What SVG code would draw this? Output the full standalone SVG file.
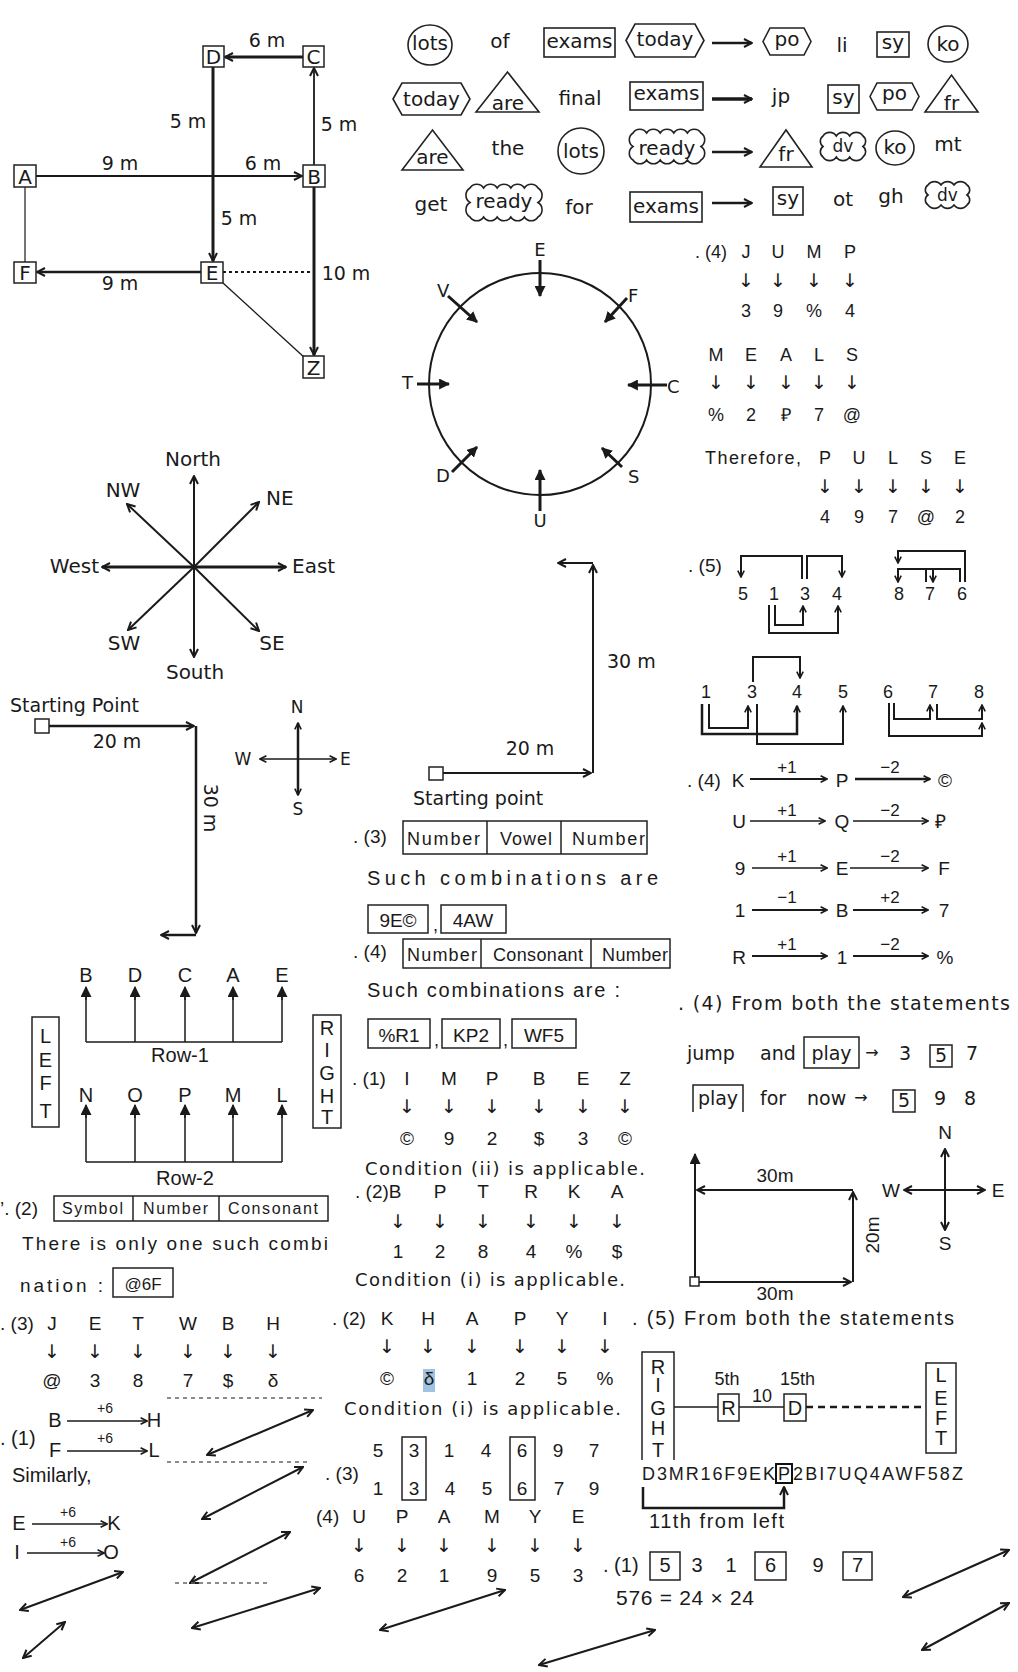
<svg xmlns="http://www.w3.org/2000/svg" width="1018" height="1672" viewBox="0 0 1018 1672">
<defs>
<style>
text{fill:#1a1a1a}
.s{font-family:"Liberation Sans",Arial,sans-serif}
.v{font-family:"DejaVu Sans",Verdana,sans-serif}
.n{font-family:"Liberation Sans Narrow","Liberation Sans",Arial,sans-serif}
.m{text-anchor:middle}
.e{text-anchor:end}
.bx{fill:#fff;stroke:#222;stroke-width:1.5}
.sh{fill:none;stroke:#222;stroke-width:1.6}
.cl{fill:none;stroke:#1a1a1a}
.dbl{fill:none;stroke:#1a1a1a;stroke-width:2;marker-start:url(#oa);marker-end:url(#oa)}
.frag{stroke:#666;stroke-width:1.5;stroke-dasharray:4,4}
</style>
<marker id="oa" viewBox="0 0 10 10" refX="9" refY="5" markerWidth="10" markerHeight="10" markerUnits="userSpaceOnUse" orient="auto-start-reverse"><path d="M1,1 L9,5 L1,9" fill="none" stroke="#1a1a1a" stroke-width="2"/></marker>
<marker id="os" viewBox="0 0 10 10" refX="9" refY="5" markerWidth="8" markerHeight="8" markerUnits="userSpaceOnUse" orient="auto-start-reverse"><path d="M1,1 L9,5 L1,9" fill="none" stroke="#1a1a1a" stroke-width="2"/></marker>
<marker id="fa" viewBox="0 0 10 10" refX="9" refY="5" markerWidth="11" markerHeight="11" markerUnits="userSpaceOnUse" orient="auto"><path d="M0,0 L10,5 L0,10 Z" fill="#1a1a1a"/></marker>
</defs>
<rect x="0" y="0" width="1018" height="1672" fill="#fff"/>

<g id="connectors">
  <!-- route diagram -->
  <line class="cl" x1="303" y1="57" x2="225" y2="57" stroke-width="3" marker-end="url(#oa)"/>
  <line class="cl" x1="213" y1="67" x2="213" y2="261" stroke-width="3" marker-end="url(#oa)"/>
  <line class="cl" x1="36" y1="176" x2="302" y2="176" stroke-width="1.8" marker-end="url(#oa)"/>
  <line class="cl" x1="314" y1="165" x2="314" y2="68" stroke-width="1.8" marker-end="url(#oa)"/>
  <line class="cl" x1="314" y1="187" x2="314" y2="355" stroke-width="3" marker-end="url(#oa)"/>
  <line class="cl" x1="201" y1="272" x2="37" y2="272" stroke-width="2.5" marker-end="url(#oa)"/>
  <line class="cl" x1="25" y1="187" x2="25" y2="262" stroke-width="1.2"/>
  <line class="cl" x1="223" y1="272" x2="312" y2="272" stroke-width="2" stroke-dasharray="3,3"/>
  <line class="cl" x1="223" y1="283" x2="305" y2="358" stroke-width="1.3"/>
  <!-- word puzzle arrows -->
  <line class="cl" x1="712" y1="43" x2="752" y2="43" stroke-width="2.5" marker-end="url(#oa)"/>
  <line class="cl" x1="712" y1="99" x2="752" y2="99" stroke-width="3.5" marker-end="url(#oa)"/>
  <line class="cl" x1="712" y1="152" x2="752" y2="152" stroke-width="2.5" marker-end="url(#oa)"/>
  <line class="cl" x1="712" y1="203" x2="752" y2="203" stroke-width="2.5" marker-end="url(#oa)"/>
  <!-- circle arrows -->
  <line class="cl" x1="540" y1="260" x2="540" y2="296" stroke-width="3" marker-end="url(#fa)"/>
  <line class="cl" x1="627" y1="298" x2="605" y2="322" stroke-width="3" marker-end="url(#fa)"/>
  <line class="cl" x1="667" y1="385" x2="628" y2="385" stroke-width="3" marker-end="url(#fa)"/>
  <line class="cl" x1="622" y1="467" x2="602" y2="448" stroke-width="3" marker-end="url(#fa)"/>
  <line class="cl" x1="540" y1="511" x2="540" y2="470" stroke-width="3" marker-end="url(#fa)"/>
  <line class="cl" x1="452" y1="472" x2="477" y2="447" stroke-width="3" marker-end="url(#fa)"/>
  <line class="cl" x1="417" y1="384" x2="449" y2="384" stroke-width="3" marker-end="url(#fa)"/>
  <line class="cl" x1="448" y1="296" x2="477" y2="322" stroke-width="3" marker-end="url(#fa)"/>
  <!-- compass rose -->
  <line class="cl" x1="194" y1="567" x2="194" y2="476" stroke-width="2" marker-end="url(#oa)"/>
  <line class="cl" x1="194" y1="567" x2="194" y2="657" stroke-width="2" marker-end="url(#oa)"/>
  <line class="cl" x1="194" y1="567" x2="102" y2="567" stroke-width="3" marker-end="url(#oa)"/>
  <line class="cl" x1="194" y1="567" x2="286" y2="567" stroke-width="3" marker-end="url(#oa)"/>
  <line class="cl" x1="194" y1="567" x2="127" y2="504" stroke-width="2" marker-end="url(#oa)"/>
  <line class="cl" x1="194" y1="567" x2="259" y2="502" stroke-width="2" marker-end="url(#oa)"/>
  <line class="cl" x1="194" y1="567" x2="128" y2="630" stroke-width="2" marker-end="url(#oa)"/>
  <line class="cl" x1="194" y1="567" x2="259" y2="631" stroke-width="2" marker-end="url(#oa)"/>
  <!-- starting point left -->
  <line class="cl" x1="49" y1="726" x2="194" y2="726" stroke-width="2.5" marker-end="url(#oa)"/>
  <line class="cl" x1="196" y1="726" x2="196" y2="933" stroke-width="2.5" marker-end="url(#oa)"/>
  <line class="cl" x1="196" y1="935" x2="161" y2="935" stroke-width="2.5" marker-end="url(#oa)"/>
  <line class="cl" x1="298" y1="759" x2="298" y2="723" stroke-width="2.5" marker-end="url(#os)"/>
  <line class="cl" x1="298" y1="759" x2="298" y2="795" stroke-width="2.5" marker-end="url(#os)"/>
  <line class="cl" x1="298" y1="759" x2="260" y2="759" stroke-width="1.5" marker-end="url(#os)"/>
  <line class="cl" x1="298" y1="759" x2="336" y2="759" stroke-width="1.5" marker-end="url(#os)"/>
  <!-- starting point middle -->
  <line class="cl" x1="443" y1="773" x2="591" y2="773" stroke-width="2" marker-end="url(#oa)"/>
  <line class="cl" x1="593" y1="773" x2="593" y2="565" stroke-width="2" marker-end="url(#oa)"/>
  <line class="cl" x1="593" y1="563" x2="558" y2="563" stroke-width="2" marker-end="url(#oa)"/>
  <!-- (5) brackets -->
  <path class="cl" d="M802,579 V556 H741 V577" stroke-width="2" marker-end="url(#os)"/>
  <path class="cl" d="M807,579 V556 H842 V577" stroke-width="2" marker-end="url(#os)"/>
  <path class="cl" d="M775,605 V625 H803 V606" stroke-width="2" marker-end="url(#os)"/>
  <path class="cl" d="M769,605 V633 H838 V606" stroke-width="2" marker-end="url(#os)"/>
  <path class="cl" d="M965,582 V551 H898 V563" stroke-width="2" marker-end="url(#os)"/>
  <path class="cl" d="M960,582 V569 H898 V582" stroke-width="2" marker-end="url(#os)"/>
  <path class="cl" d="M926,582 V569" stroke-width="2"/>
  <path class="cl" d="M933,569 V582" stroke-width="2" marker-end="url(#os)"/>
  <path class="cl" d="M753,682 V657 H800 V678" stroke-width="2" marker-end="url(#os)"/>
  <path class="cl" d="M709,704 V728 H748 V706" stroke-width="2" marker-end="url(#os)"/>
  <path class="cl" d="M702,704 V734 H797 V706" stroke-width="2.5" marker-end="url(#os)"/>
  <path class="cl" d="M757,704 V744 H843 V706" stroke-width="2" marker-end="url(#os)"/>
  <path class="cl" d="M894,703 V719 H930 V705" stroke-width="2" marker-end="url(#os)"/>
  <path class="cl" d="M937,704 V719 H982 V705" stroke-width="2" marker-end="url(#os)"/>
  <path class="cl" d="M889,703 V736 H982 V723" stroke-width="2" marker-end="url(#os)"/>
  <!-- Q4 coding arrows -->
  <line class="cl" x1="750" y1="779" x2="827" y2="779" stroke-width="2" marker-end="url(#os)"/>
  <line class="cl" x1="855" y1="779" x2="930" y2="779" stroke-width="2.5" marker-end="url(#os)"/>
  <line class="cl" x1="750" y1="821" x2="825" y2="821" stroke-width="1.5" marker-end="url(#os)"/>
  <line class="cl" x1="853" y1="821" x2="928" y2="821" stroke-width="1.5" marker-end="url(#os)"/>
  <line class="cl" x1="752" y1="868" x2="827" y2="868" stroke-width="1.5" marker-end="url(#os)"/>
  <line class="cl" x1="850" y1="868" x2="928" y2="868" stroke-width="1.5" marker-end="url(#os)"/>
  <line class="cl" x1="752" y1="910" x2="827" y2="910" stroke-width="2" marker-end="url(#os)"/>
  <line class="cl" x1="853" y1="910" x2="928" y2="910" stroke-width="2" marker-end="url(#os)"/>
  <line class="cl" x1="752" y1="956" x2="827" y2="956" stroke-width="2" marker-end="url(#os)"/>
  <line class="cl" x1="853" y1="956" x2="928" y2="956" stroke-width="2" marker-end="url(#os)"/>
  <!-- row diagram -->
  <path class="cl" d="M86,1042 H282 M86,1042 V988 M135,1042 V988 M185,1042 V988 M233,1042 V988 M282,1042 V988" stroke-width="1.5"/>
  <line class="cl" x1="86" y1="1000" x2="86" y2="987" stroke-width="1.5" marker-end="url(#fa)"/>
  <line class="cl" x1="135" y1="1000" x2="135" y2="987" stroke-width="1.5" marker-end="url(#fa)"/>
  <line class="cl" x1="185" y1="1000" x2="185" y2="987" stroke-width="1.5" marker-end="url(#fa)"/>
  <line class="cl" x1="233" y1="1000" x2="233" y2="987" stroke-width="1.5" marker-end="url(#fa)"/>
  <line class="cl" x1="282" y1="1000" x2="282" y2="987" stroke-width="1.5" marker-end="url(#fa)"/>
  <path class="cl" d="M86,1162 H282 M86,1162 V1106 M135,1162 V1106 M185,1162 V1106 M233,1162 V1106 M282,1162 V1106" stroke-width="1.5"/>
  <line class="cl" x1="86" y1="1118" x2="86" y2="1105" stroke-width="1.5" marker-end="url(#fa)"/>
  <line class="cl" x1="135" y1="1118" x2="135" y2="1105" stroke-width="1.5" marker-end="url(#fa)"/>
  <line class="cl" x1="185" y1="1118" x2="185" y2="1105" stroke-width="1.5" marker-end="url(#fa)"/>
  <line class="cl" x1="233" y1="1118" x2="233" y2="1105" stroke-width="1.5" marker-end="url(#fa)"/>
  <line class="cl" x1="282" y1="1118" x2="282" y2="1105" stroke-width="1.5" marker-end="url(#fa)"/>
  <!-- direction rectangle -->
  <line class="cl" x1="695" y1="1282" x2="695" y2="1154" stroke-width="2" marker-end="url(#fa)"/>
  <line class="cl" x1="853" y1="1190" x2="697" y2="1190" stroke-width="2" marker-end="url(#oa)"/>
  <line class="cl" x1="853" y1="1282" x2="853" y2="1192" stroke-width="2" marker-end="url(#oa)"/>
  <line class="cl" x1="699" y1="1282" x2="851" y2="1282" stroke-width="2" marker-end="url(#oa)"/>
  <line class="cl" x1="945" y1="1190" x2="945" y2="1149" stroke-width="2" marker-end="url(#oa)"/>
  <line class="cl" x1="945" y1="1190" x2="945" y2="1230" stroke-width="2" marker-end="url(#oa)"/>
  <line class="cl" x1="945" y1="1190" x2="904" y2="1190" stroke-width="2" marker-end="url(#oa)"/>
  <line class="cl" x1="945" y1="1190" x2="985" y2="1190" stroke-width="2" marker-end="url(#oa)"/>
  <!-- +6 arrows -->
  <line class="cl" x1="67" y1="1421" x2="147" y2="1421" stroke-width="1.5" marker-end="url(#os)"/>
  <line class="cl" x1="67" y1="1451" x2="147" y2="1451" stroke-width="1.5" marker-end="url(#os)"/>
  <line class="cl" x1="32" y1="1524" x2="107" y2="1524" stroke-width="1.5" marker-end="url(#os)"/>
  <line class="cl" x1="27" y1="1553" x2="104" y2="1553" stroke-width="1.5" marker-end="url(#os)"/>
  <!-- (5) seating line -->
  <line class="cl" x1="674" y1="1407" x2="718" y2="1407" stroke="#666" stroke-width="1.5"/>
  <line class="cl" x1="739" y1="1407" x2="784" y2="1407" stroke="#666" stroke-width="1.5"/>
  <line class="cl" x1="806" y1="1407" x2="926" y2="1407" stroke-width="2.5" stroke-dasharray="7,5"/>
  <path class="cl" d="M643,1487 V1508 H784 V1487" stroke-width="2.5" marker-end="url(#oa)"/>
  <!-- double-headed arrows -->
  <line class="dbl" x1="207" y1="1455" x2="313" y2="1410"/>
  <line class="dbl" x1="202" y1="1519" x2="303" y2="1467"/>
  <line class="dbl" x1="190" y1="1583" x2="290" y2="1532"/>
  <line class="dbl" x1="20" y1="1610" x2="123" y2="1572"/>
  <line class="dbl" x1="192" y1="1628" x2="320" y2="1588"/>
  <line class="dbl" x1="23" y1="1658" x2="65" y2="1622"/>
  <line class="dbl" x1="380" y1="1630" x2="505" y2="1590"/>
  <line class="dbl" x1="539" y1="1665" x2="655" y2="1630"/>
  <line class="dbl" x1="903" y1="1597" x2="1009" y2="1550"/>
  <line class="dbl" x1="922" y1="1650" x2="1009" y2="1603"/>
  <line class="frag" x1="167" y1="1398" x2="322" y2="1398"/>
  <line class="frag" x1="167" y1="1462" x2="307" y2="1462"/>
  <line class="frag" x1="175" y1="1583" x2="267" y2="1583"/>
</g>

<!-- route diagram nodes -->
<g id="node-D"><rect class="bx" x="203" y="46" width="21" height="21"/><text class="v m" x="213.5" y="64" font-size="20">D</text></g>
<g id="node-C"><rect class="bx" x="303" y="46" width="21" height="21"/><text class="v m" x="313.5" y="64" font-size="20">C</text></g>
<g id="node-A"><rect class="bx" x="14" y="165" width="22" height="22"/><text class="v m" x="25" y="183.5" font-size="20">A</text></g>
<g id="node-B"><rect class="bx" x="303" y="165" width="22" height="22"/><text class="v m" x="314" y="183.5" font-size="20">B</text></g>
<g id="node-F"><rect class="bx" x="14" y="262" width="22" height="21"/><text class="v m" x="25" y="280" font-size="20">F</text></g>
<g id="node-E"><rect class="bx" x="201" y="262" width="22" height="21"/><text class="v m" x="212" y="280" font-size="20">E</text></g>
<g id="node-Z"><rect class="bx" x="303" y="356" width="21" height="22"/><text class="v m" x="313.5" y="374.5" font-size="20">Z</text></g>
<g id="route-labels" class="v m" font-size="19">
  <text x="267" y="47">6 m</text><text x="188" y="128">5 m</text><text x="339" y="131">5 m</text>
  <text x="120" y="170">9 m</text><text x="263" y="170">6 m</text><text x="239" y="225">5 m</text>
  <text x="346" y="280">10 m</text><text x="120" y="290">9 m</text>
</g>

<!-- word puzzle -->
<g id="puzzle" class="v m" font-size="20">
  <g id="w-lots1"><ellipse class="sh" cx="430" cy="45" rx="22" ry="20"/><text x="430" y="50">lots</text></g>
  <g id="w-of"><text x="500" y="48">of</text></g>
  <g id="w-exams1"><rect class="sh" x="544" y="28" width="71" height="29"/><text x="579.5" y="48">exams</text></g>
  <g id="w-today1"><polygon class="sh" points="626,40.5 635,24 695,24 704,40.5 695,57 635,57"/><text x="665" y="46">today</text></g>
  <g id="w-po1"><polygon class="sh" points="763,41.5 770,28 804,28 811,41.5 804,55 770,55"/><text x="787" y="46">po</text></g>
  <g id="w-li"><text x="842" y="52">li</text></g>
  <g id="w-sy1"><rect class="sh" x="877" y="32" width="32" height="25"/><text x="893" y="49">sy</text></g>
  <g id="w-ko1"><ellipse class="sh" cx="948" cy="44" rx="20" ry="18"/><text x="948" y="51">ko</text></g>

  <g id="w-today2"><polygon class="sh" points="393,99 402,83 461,83 470,99 461,115 402,115"/><text x="431.5" y="106">today</text></g>
  <g id="w-are2"><polygon class="sh" points="476,112 507.5,72 539,112"/><text x="508" y="110">are</text></g>
  <g id="w-final"><text x="580" y="105">final</text></g>
  <g id="w-exams2"><rect class="sh" x="630" y="82" width="73" height="28"/><text x="666.5" y="100">exams</text></g>
  <g id="w-jp"><text x="781" y="103">jp</text></g>
  <g id="w-sy2"><rect class="sh" x="828" y="85" width="31" height="28"/><text x="843.5" y="104">sy</text></g>
  <g id="w-po2"><polygon class="sh" points="870,96.5 877,83 912,83 919,96.5 912,110 877,110"/><text x="894.5" y="100">po</text></g>
  <g id="w-fr2"><polygon class="sh" points="925,112 951.5,75 978,112"/><text x="951.5" y="110">fr</text></g>

  <g id="w-are3"><polygon class="sh" points="402,170 432.5,130 463,170"/><text x="432.5" y="164">are</text></g>
  <g id="w-the"><text x="508" y="155">the</text></g>
  <g id="w-lots3"><ellipse class="sh" cx="581" cy="151" rx="23" ry="23"/><text x="581" y="158">lots</text></g>
  <g id="w-ready3"><path class="sh" d="M633,133 a8,8 0 0 1 13.6,0 a8,8 0 0 1 13.6,0 a8,8 0 0 1 13.6,0 a8,8 0 0 1 13.6,0 a8,8 0 0 1 13.6,0 a8,8 0 0 1 0,13.5 a8,8 0 0 1 0,13.5 a8,8 0 0 1 -13.6,0 a8,8 0 0 1 -13.6,0 a8,8 0 0 1 -13.6,0 a8,8 0 0 1 -13.6,0 a8,8 0 0 1 -13.6,0 a8,8 0 0 1 0,-13.5 a8,8 0 0 1 0,-13.5 Z"/><text x="667" y="155">ready</text></g>
  <g id="w-fr3"><polygon class="sh" points="760,167 786,130 812,167"/><text x="786" y="161">fr</text></g>
  <g id="w-dv3"><path class="sh" d="M823,136 a8,8 0 0 1 13.33,0 a8,8 0 0 1 13.33,0 a8,8 0 0 1 13.33,0 a6.5,6.5 0 0 1 0,10.5 a6.5,6.5 0 0 1 0,10.5 a8,8 0 0 1 -13.33,0 a8,8 0 0 1 -13.33,0 a8,8 0 0 1 -13.33,0 a6.5,6.5 0 0 1 0,-10.5 a6.5,6.5 0 0 1 0,-10.5 Z"/><text x="843" y="152" font-size="17">dv</text></g>
  <g id="w-ko3"><ellipse class="sh" cx="895" cy="148" rx="19" ry="17"/><text x="895" y="154">ko</text></g>
  <g id="w-mt"><text x="948" y="151">mt</text></g>

  <g id="w-get"><text x="431" y="211">get</text></g>
  <g id="w-ready4"><path class="sh" d="M470,188 a8,8 0 0 1 13.6,0 a8,8 0 0 1 13.6,0 a8,8 0 0 1 13.6,0 a8,8 0 0 1 13.6,0 a8,8 0 0 1 13.6,0 a8.5,8.5 0 0 1 0,14.5 a8.5,8.5 0 0 1 0,14.5 a8,8 0 0 1 -13.6,0 a8,8 0 0 1 -13.6,0 a8,8 0 0 1 -13.6,0 a8,8 0 0 1 -13.6,0 a8,8 0 0 1 -13.6,0 a8.5,8.5 0 0 1 0,-14.5 a8.5,8.5 0 0 1 0,-14.5 Z"/><text x="504" y="208">ready</text></g>
  <g id="w-for"><text x="579" y="214">for</text></g>
  <g id="w-exams4"><rect class="sh" x="630" y="192" width="72" height="30"/><text x="666" y="213">exams</text></g>
  <g id="w-sy4"><rect class="sh" x="773" y="187" width="30" height="28"/><text x="788" y="205">sy</text></g>
  <g id="w-ot"><text x="843" y="206">ot</text></g>
  <g id="w-gh"><text x="891" y="203">gh</text></g>
  <g id="w-dv4"><path class="sh" d="M928,185 a8,8 0 0 1 13,0 a8,8 0 0 1 13,0 a8,8 0 0 1 13,0 a6,6 0 0 1 0,10 a6,6 0 0 1 0,10 a8,8 0 0 1 -13,0 a8,8 0 0 1 -13,0 a8,8 0 0 1 -13,0 a6,6 0 0 1 0,-10 a6,6 0 0 1 0,-10 Z"/><text x="947.5" y="201" font-size="17">dv</text></g>
</g>

<!-- circle -->
<g id="circle" class="v" font-size="18">
  <circle cx="540" cy="384" r="111" fill="none" stroke="#1a1a1a" stroke-width="2"/>
  <text class="m" x="540" y="256">E</text>
  <text x="628" y="302">F</text>
  <text x="667" y="393">C</text>
  <text x="628" y="483">S</text>
  <text class="m" x="540" y="527">U</text>
  <text x="436" y="482">D</text>
  <text x="402" y="389">T</text>
  <text x="437" y="297">V</text>
</g>

<!-- (4) JUMP coding -->
<g id="jump-coding" class="s m" font-size="18">
  <text x="695" y="258" text-anchor="start">. (4)</text>
  <text x="746" y="258">J</text><text x="778" y="258">U</text><text x="814" y="258">M</text><text x="850" y="258">P</text>
  <g class="v" font-size="19"><text x="746" y="287">↓</text><text x="778" y="287">↓</text><text x="814" y="287">↓</text><text x="850" y="287">↓</text></g>
  <text x="746" y="317">3</text><text x="778" y="317">9</text><text x="814" y="317">%</text><text x="850" y="317">4</text>
  <text x="716" y="361">M</text><text x="751" y="361">E</text><text x="786" y="361">A</text><text x="819" y="361">L</text><text x="852" y="361">S</text>
  <g class="v" font-size="19"><text x="716" y="389">↓</text><text x="751" y="389">↓</text><text x="786" y="389">↓</text><text x="819" y="389">↓</text><text x="852" y="389">↓</text></g>
  <text x="716" y="421">%</text><text x="751" y="421">2</text><text x="786" y="421" fill="#8a5a30">₽</text><text x="819" y="421">7</text><text x="852" y="421">@</text>
  <text x="705" y="464" text-anchor="start" textLength="96">Therefore,</text>
  <text x="825" y="464">P</text><text x="859" y="464">U</text><text x="893" y="464">L</text><text x="926" y="464">S</text><text x="960" y="464">E</text>
  <g class="v" font-size="19"><text x="825" y="493">↓</text><text x="859" y="493">↓</text><text x="893" y="493">↓</text><text x="926" y="493">↓</text><text x="960" y="493">↓</text></g>
  <text x="825" y="523">4</text><text x="859" y="523">9</text><text x="893" y="523">7</text><text x="926" y="523">@</text><text x="960" y="523">2</text>
</g>

<!-- compass rose -->
<g id="compass-rose" class="v" font-size="20">
  <text class="m" x="193" y="466">North</text>
  <text class="m" x="195" y="679">South</text>
  <text class="e" x="99" y="573">West</text>
  <text x="292" y="573">East</text>
  <text class="m" x="123" y="497">NW</text>
  <text x="266" y="505">NE</text>
  <text class="m" x="124" y="650">SW</text>
  <text class="m" x="272" y="650">SE</text>
</g>

<!-- starting point left -->
<g id="start-left" class="v" font-size="19">
  <text x="10" y="712">Starting Point</text>
  <rect class="bx" x="35" y="719" width="14" height="14"/>
  <text class="m" x="117" y="748">20 m</text>
  <text class="m" transform="translate(204,808) rotate(90)">30 m</text>
  <g font-size="17"><text class="m" x="297" y="713">N</text><text class="m" x="298" y="815">S</text><text class="m" x="243" y="765">W</text><text x="340" y="765">E</text></g>
</g>

<!-- starting point middle -->
<g id="start-mid" class="v" font-size="19">
  <rect class="bx" x="429" y="767" width="14" height="13"/>
  <text x="607" y="668">30 m</text>
  <text class="m" x="530" y="755">20 m</text>
  <text x="413" y="805">Starting point</text>
</g>

<!-- (5) ordering -->
<g id="order5" class="s m" font-size="18">
  <text x="688" y="572" text-anchor="start" font-size="19">. (5)</text>
  <text x="743" y="600">5</text><text x="774" y="600">1</text><text x="805" y="600">3</text><text x="837" y="600">4</text>
  <text x="899" y="600">8</text><text x="930" y="600">7</text><text x="962" y="600">6</text>
  <text x="706" y="698" fill="#a0602a">1</text><text x="752" y="698">3</text><text x="797" y="698">4</text><text x="843" y="698" fill="#b8702a">5</text>
  <text x="888" y="698" fill="#a0602a">6</text><text x="933" y="698">7</text><text x="979" y="698">8</text>
</g>

<!-- (4) letter coding -->
<g id="q4-coding" class="n m" font-size="19">
  <text x="687" y="787" text-anchor="start">. (4)</text>
  <text x="738" y="787">K</text><text x="842" y="787">P</text><text x="945" y="787">©</text>
  <text x="739" y="828">U</text><text x="842" y="828">Q</text><text x="940" y="828" fill="#888">₽</text>
  <text x="740" y="875">9</text><text x="842" y="875">E</text><text x="944" y="875">F</text>
  <text x="740" y="917">1</text><text x="842" y="917">B</text><text x="944" y="917">7</text>
  <text x="739" y="964">R</text><text x="842" y="964">1</text><text x="945" y="964">%</text>
  <g font-size="17">
    <text x="787" y="773">+1</text><text x="890" y="773">−2</text>
    <text x="787" y="816">+1</text><text x="890" y="816">−2</text>
    <text x="787" y="862">+1</text><text x="890" y="862">−2</text>
    <text x="787" y="903">−1</text><text x="890" y="903">+2</text>
    <text x="787" y="950">+1</text><text x="890" y="950">−2</text>
  </g>
</g>

<!-- row diagram -->
<g id="rows" class="n m" font-size="20">
  <text x="86" y="982">B</text><text x="135" y="982">D</text><text x="185" y="982">C</text><text x="233" y="982">A</text><text x="282" y="982">E</text>
  <text x="180" y="1062">Row-1</text>
  <text x="86" y="1102">N</text><text x="135" y="1102">O</text><text x="185" y="1102">P</text><text x="233" y="1102">M</text><text x="282" y="1102">L</text>
  <text x="185" y="1185">Row-2</text>
  <g id="node-LEFT"><rect class="bx" x="32" y="1017" width="27" height="110"/><text x="45.5" y="1043">L</text><text x="45.5" y="1067">E</text><text x="45.5" y="1090">F</text><text x="45.5" y="1118">T</text></g>
  <g id="node-RIGHT"><rect class="bx" x="313" y="1015" width="28" height="113"/><text x="327" y="1035">R</text><text x="327" y="1057">I</text><text x="327" y="1080">G</text><text x="327" y="1103">H</text><text x="327" y="1124">T</text></g>
</g>

<!-- (2) symbol number consonant -->
<g id="q2-left" class="n" font-size="18">
  <text x="0" y="1215" font-size="19">’. (2)</text>
  <rect class="bx" x="54" y="1196" width="274" height="25"/>
  <line x1="133" y1="1196" x2="133" y2="1221" stroke="#222" stroke-width="1.5"/>
  <line x1="219" y1="1196" x2="219" y2="1221" stroke="#222" stroke-width="1.5"/>
  <text x="62" y="1214" textLength="61" font-size="16">Symbol</text>
  <text x="143" y="1214" textLength="65" font-size="16">Number</text>
  <text x="228" y="1214" textLength="90" font-size="16">Consonant</text>
  <text x="22" y="1250" textLength="306" font-size="19">There is only one such combi</text>
  <text x="20" y="1292" textLength="83" font-size="19">nation :</text>
  <g id="node-6F"><rect class="bx" x="113" y="1268" width="60" height="29"/><text class="m" x="143" y="1290" fill="#777" font-size="17">@6F</text></g>
</g>

<!-- (3)/(4) combinations -->
<g id="combos" class="n" font-size="18">
  <text x="353" y="843" font-size="19">. (3)</text>
  <rect class="bx" x="403" y="821" width="244" height="33"/>
  <line x1="487" y1="821" x2="487" y2="854" stroke="#222" stroke-width="1.5"/>
  <line x1="561" y1="821" x2="561" y2="854" stroke="#222" stroke-width="1.5"/>
  <text x="407" y="845" textLength="73">Number</text>
  <text x="500" y="845" textLength="52">Vowel</text>
  <text x="572" y="845" textLength="73">Number</text>
  <text x="367" y="885" textLength="291" font-size="20">Such combinations are</text>
  <g id="node-9E"><rect class="bx" x="368" y="905" width="60" height="28"/><text class="m" x="398" y="927" font-size="19">9E©</text></g>
  <text x="433" y="931">,</text>
  <g id="node-4AW"><rect class="bx" x="441" y="905" width="65" height="28"/><text class="m" x="473" y="927" font-size="19">4AW</text></g>
  <text x="353" y="958" font-size="19">. (4)</text>
  <rect class="bx" x="403" y="939" width="267" height="29"/>
  <line x1="481" y1="939" x2="481" y2="968" stroke="#222" stroke-width="1.5"/>
  <line x1="591" y1="939" x2="591" y2="968" stroke="#222" stroke-width="1.5"/>
  <text x="407" y="961" textLength="70">Number</text>
  <text x="493" y="961" textLength="90">Consonant</text>
  <text x="602" y="961" textLength="66">Number</text>
  <text x="367" y="997" textLength="253" font-size="20">Such combinations are :</text>
  <g id="node-R1"><rect class="bx" x="368" y="1019" width="62" height="29"/><text class="m" x="399" y="1042" font-size="19">%R1</text></g>
  <text x="434" y="1046">,</text>
  <g id="node-KP2"><rect class="bx" x="442" y="1019" width="58" height="29"/><text class="m" x="471" y="1042" font-size="19">KP2</text></g>
  <text x="503" y="1046">,</text>
  <g id="node-WF5"><rect class="bx" x="512" y="1019" width="64" height="29"/><text class="m" x="544" y="1042" font-size="19">WF5</text></g>
</g>

<!-- (1)/(2) conditions -->
<g id="conditions" class="s m" font-size="19">
  <text x="352" y="1085" text-anchor="start">. (1)</text>
  <text x="407" y="1085">I</text><text x="449" y="1085">M</text><text x="492" y="1085">P</text><text x="539" y="1085">B</text><text x="583" y="1085">E</text><text x="625" y="1085">Z</text>
  <g class="v"><text x="407" y="1113">↓</text><text x="449" y="1113">↓</text><text x="492" y="1113">↓</text><text x="539" y="1113">↓</text><text x="583" y="1113">↓</text><text x="625" y="1113">↓</text></g>
  <text x="407" y="1145">©</text><text x="449" y="1145">9</text><text x="492" y="1145">2</text><text x="539" y="1145">$</text><text x="583" y="1145">3</text><text x="625" y="1145">©</text>
  <text class="v" x="365" y="1175" text-anchor="start" textLength="280" font-size="18">Condition (ii) is applicable.</text>
  <text x="355" y="1198" text-anchor="start">. (2)B</text>
  <text x="440" y="1198">P</text><text x="483" y="1198">T</text><text x="531" y="1198">R</text><text x="574" y="1198">K</text><text x="617" y="1198">A</text>
  <g class="v"><text x="398" y="1228">↓</text><text x="440" y="1228">↓</text><text x="483" y="1228">↓</text><text x="531" y="1228">↓</text><text x="574" y="1228">↓</text><text x="617" y="1228">↓</text></g>
  <text x="398" y="1258">1</text><text x="440" y="1258">2</text><text x="483" y="1258">8</text><text x="531" y="1258">4</text><text x="574" y="1258">%</text><text x="617" y="1258">$</text>
  <text class="v" x="355" y="1286" text-anchor="start" textLength="270" font-size="18">Condition (i) is applicable.</text>
</g>

<!-- (4) from both statements -->
<g id="statements4" class="v" font-size="19">
  <text x="678" y="1010" textLength="332">. (4) From both the statements</text>
  <text x="687" y="1060">jump</text><text x="760" y="1060">and</text>
  <g id="node-play1"><rect class="bx" x="804" y="1037" width="55" height="31"/><text class="m" x="831.5" y="1060">play</text></g>
  <text class="m" x="872" y="1058" font-size="16">→</text>
  <text class="m" x="905" y="1060">3</text>
  <g id="node-5a"><rect class="bx" x="930" y="1045" width="22" height="22"/><text class="m" x="941" y="1062">5</text></g>
  <text class="m" x="972" y="1060">7</text>
  <g id="node-play2"><path d="M693,1112 V1085 H743 V1112" fill="none" stroke="#222" stroke-width="1.5"/><text class="m" x="718" y="1105">play</text></g>
  <text x="760" y="1105">for</text><text x="807" y="1105">now</text>
  <text class="m" x="861" y="1103" font-size="16">→</text>
  <g id="node-5b"><rect class="bx" x="893" y="1090" width="22" height="22"/><text class="m" x="904" y="1107">5</text></g>
  <text class="m" x="940" y="1105">9</text><text class="m" x="970" y="1105">8</text>
</g>

<!-- direction rectangle -->
<g id="rect-route" class="n m" font-size="19">
  <rect class="bx" x="690" y="1277" width="9" height="9"/>
  <text x="775" y="1182">30m</text>
  <text x="775" y="1300">30m</text>
  <text transform="translate(879,1235) rotate(-90)">20m</text>
  <text x="945" y="1139">N</text><text x="945" y="1250">S</text><text x="891" y="1197">W</text><text x="998" y="1197">E</text>
</g>

<!-- (3) JETWBH -->
<g id="q3-left" class="s m" font-size="19">
  <text x="0" y="1330" text-anchor="start">. (3)</text>
  <text x="52" y="1330">J</text><text x="95" y="1330">E</text><text x="138" y="1330">T</text><text x="188" y="1330">W</text><text x="228" y="1330">B</text><text x="273" y="1330">H</text>
  <g class="v"><text x="52" y="1358">↓</text><text x="95" y="1358">↓</text><text x="138" y="1358">↓</text><text x="188" y="1358">↓</text><text x="228" y="1358">↓</text><text x="273" y="1358">↓</text></g>
  <text x="52" y="1387">@</text><text x="95" y="1387">3</text><text x="138" y="1387">8</text><text x="188" y="1387">7</text><text x="228" y="1387">$</text><text x="273" y="1387">δ</text>
</g>

<!-- (1) +6 -->
<g id="plus6" class="s m" font-size="20">
  <text x="0" y="1445" text-anchor="start">. (1)</text>
  <text x="55" y="1427">B</text><text x="154" y="1427">H</text>
  <text x="55" y="1457" fill="#c07a30">F</text><text x="154" y="1457">L</text>
  <text x="12" y="1482" text-anchor="start">Similarly,</text>
  <text x="19" y="1530">E</text><text x="114" y="1530">K</text>
  <text x="17" y="1559">I</text><text x="111" y="1559">O</text>
  <g font-size="14"><text x="105" y="1413">+6</text><text x="105" y="1443">+6</text><text x="68" y="1517">+6</text><text x="68" y="1547">+6</text></g>
</g>

<!-- (2) KHAPYI -->
<g id="q2-mid" class="s m" font-size="19">
  <text x="332" y="1325" text-anchor="start">. (2)</text>
  <text x="387" y="1325">K</text><text x="428" y="1325">H</text><text x="472" y="1325">A</text><text x="520" y="1325">P</text><text x="562" y="1325">Y</text><text x="605" y="1325">I</text>
  <g class="v"><text x="387" y="1353">↓</text><text x="428" y="1353">↓</text><text x="472" y="1353">↓</text><text x="520" y="1353">↓</text><text x="562" y="1353">↓</text><text x="605" y="1353">↓</text></g>
  <rect x="423" y="1369" width="12" height="23" fill="#9fc3e0"/>
  <text x="387" y="1385">©</text><text x="429" y="1385">δ</text><text x="472" y="1385">1</text><text x="520" y="1385">2</text><text x="562" y="1385">5</text><text x="605" y="1385">%</text>
  <text class="v" x="344" y="1415" text-anchor="start" textLength="277" font-size="18">Condition (i) is applicable.</text>
</g>

<!-- (3) digit comparison -->
<g id="q3-mid" class="n m" font-size="19">
  <text x="325" y="1480" text-anchor="start">. (3)</text>
  <text x="378" y="1457">5</text><text x="414" y="1457">3</text><text x="449" y="1457">1</text><text x="486" y="1457">4</text><text x="522" y="1457">6</text><text x="558" y="1457">9</text><text x="594" y="1457">7</text>
  <text x="378" y="1495">1</text><text x="414" y="1495">3</text><text x="450" y="1495">4</text><text x="487" y="1495">5</text><text x="522" y="1495">6</text><text x="559" y="1495">7</text><text x="594" y="1495">9</text>
  <rect x="402" y="1437" width="24" height="63" fill="none" stroke="#222" stroke-width="1.5"/>
  <rect x="510" y="1437" width="25" height="63" fill="none" stroke="#222" stroke-width="1.5"/>
</g>

<!-- (4) UPAMYE -->
<g id="q4-mid" class="n m" font-size="19">
  <text x="316" y="1523" text-anchor="start">(4)</text>
  <text x="359" y="1523">U</text><text x="402" y="1523">P</text><text x="444" y="1523">A</text><text x="492" y="1523">M</text><text x="535" y="1523">Y</text><text x="578" y="1523">E</text>
  <g class="v"><text x="359" y="1552">↓</text><text x="402" y="1552">↓</text><text x="444" y="1552">↓</text><text x="492" y="1552">↓</text><text x="535" y="1552">↓</text><text x="578" y="1552">↓</text></g>
  <text x="359" y="1582">6</text><text x="402" y="1582">2</text><text x="444" y="1582">1</text><text x="492" y="1582">9</text><text x="535" y="1582">5</text><text x="578" y="1582">3</text>
</g>

<!-- (5) seating -->
<g id="q5-right" class="n" font-size="20">
  <text x="632" y="1325" textLength="322">. (5) From both the statements</text>
  <g id="node-RIGHT2" class="m"><path d="M642,1460 V1352 H674 V1460" fill="none" stroke="#222" stroke-width="1.5"/><text x="658" y="1374">R</text><text x="658" y="1392">I</text><text x="658" y="1415">G</text><text x="658" y="1435">H</text><text x="658" y="1457">T</text></g>
  <g id="node-R5"><rect class="bx" x="718" y="1394" width="21" height="27"/><text class="m" x="728.5" y="1415">R</text></g>
  <g id="node-D15"><rect class="bx" x="784" y="1394" width="22" height="27"/><text class="m" x="795" y="1415">D</text></g>
  <g id="node-LEFT2" class="m"><rect class="bx" x="926" y="1363" width="30" height="90"/><text x="941" y="1382">L</text><text x="941" y="1405">E</text><text x="941" y="1425">F</text><text x="941" y="1445">T</text></g>
  <g class="m" font-size="18"><text x="727" y="1385">5th</text><text x="797.5" y="1385">15th</text><text x="762" y="1402">10</text></g>
  <text x="642" y="1480" textLength="133" font-size="18">D3MR16F9EK</text>
  <rect x="776" y="1464" width="16" height="19" fill="none" stroke="#111" stroke-width="2"/>
  <text class="m" x="784" y="1480" font-size="18">P</text>
  <text x="793" y="1480" textLength="170" font-size="18">2BI7UQ4AWF58Z</text>
  <text x="649" y="1528" textLength="135">11th from left</text>
</g>

<!-- (1) square -->
<g id="q1-square" class="n" font-size="20">
  <text x="603" y="1572">. (1)</text>
  <g id="node-sq5"><rect class="bx" x="650" y="1552" width="30" height="28"/><text class="m" x="665" y="1572">5</text></g>
  <text class="m" x="697" y="1572">3</text><text class="m" x="731" y="1572">1</text>
  <g id="node-sq6"><rect class="bx" x="755" y="1552" width="31" height="28"/><text class="m" x="770.5" y="1572">6</text></g>
  <text class="m" x="818" y="1572">9</text>
  <g id="node-sq7"><rect class="bx" x="843" y="1552" width="29" height="28"/><text class="m" x="857.5" y="1572">7</text></g>
  <text x="616" y="1605" textLength="138" font-size="21">576 = 24 × 24</text>
</g>
</svg>
